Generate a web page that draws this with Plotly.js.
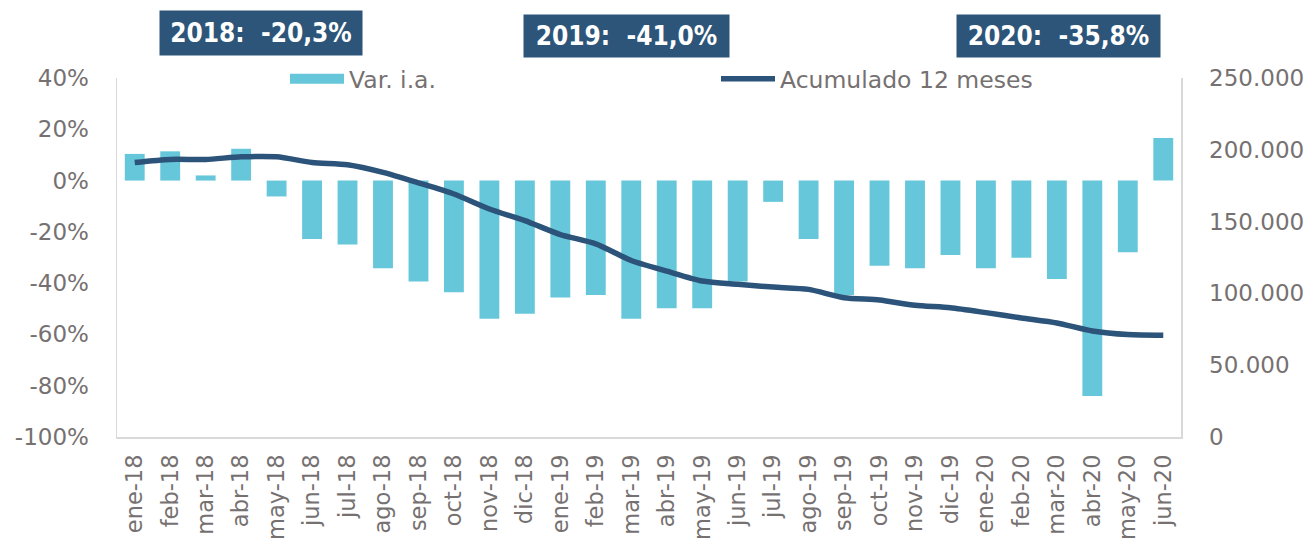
<!DOCTYPE html>
<html>
<head>
<meta charset="utf-8">
<script src="https://cdn.plot.ly/plotly-3.0.1.min.js"></script>
<style>html,body{margin:0;padding:0;background:#fff;}#chart{width:1309px;height:543px;}</style>
</head>
<body>
<div id="chart"></div>
<script>
var categories = ['ene-18','feb-18','mar-18','abr-18','may-18','jun-18','jul-18','ago-18','sep-18','oct-18','nov-18','dic-18','ene-19','feb-19','mar-19','abr-19','may-19','jun-19','jul-19','ago-19','sep-19','oct-19','nov-19','dic-19','ene-20','feb-20','mar-20','abr-20','may-20','jun-20'];
var varIA = [10.4, 11.4, 2.0, 12.4, -6.2, -22.8, -24.9, -34.2, -39.4, -43.6, -53.9, -51.9, -45.6, -44.6, -53.9, -49.8, -49.8, -39.4, -8.3, -22.8, -44.6, -33.2, -34.2, -29.0, -34.2, -30.1, -38.4, -84.0, -28.0, 16.6];
var acumulado = [191200, 193300, 193300, 195100, 195100, 191200, 189600, 184300, 177000, 169200, 158800, 150700, 141000, 134500, 122900, 115500, 108600, 106300, 104400, 102800, 97000, 95400, 91700, 90000, 86600, 82900, 79400, 73800, 71300, 70800];
var leftTickVals = [40, 20, 0, -20, -40, -60, -80, -100];
var leftTickText = ['40%', '20%', '0%', '-20%', '-40%', '-60%', '-80%', '-100%'];
var rightTickVals = [0, 50000, 100000, 150000, 200000, 250000];
var rightTickText = ['0', '50.000', '100.000', '150.000', '200.000', '250.000'];
var yearLabels = ['2018:\u00a0\u00a0-20,3%', '2019:\u00a0\u00a0-41,0%', '2020:\u00a0\u00a0-35,8%'];
var seriesNames = ['Var. i.a.', 'Acumulado 12 meses'];

var barColor = '#67c7da';
var lineColor = '#2c5379';
var gray = '#767171';
var fontFam = 'DejaVu Sans, Verdana, sans-serif';

var traces = [
  {type: 'bar', x: categories, y: varIA, name: seriesNames[0], marker: {color: barColor}, showlegend: false, yaxis: 'y', hoverinfo: 'x+y'},
  {type: 'scatter', mode: 'lines', x: [null], y: [null], name: seriesNames[0], line: {color: barColor, width: 14}, yaxis: 'y', showlegend: true},
  {type: 'scatter', mode: 'lines', x: categories, y: acumulado, name: seriesNames[1], line: {color: lineColor, width: 5.5, shape: 'spline', smoothing: 0.7}, yaxis: 'y2', showlegend: true}
];

var L = 117, R = 1181, T = 78, B = 437;
function px(x){ return (x - L) / (R - L); }
function py(y){ return (B - y) / (B - T); }
var boxes = [[261, 33, 202, 44], [626.5, 36, 205, 42], [1058.5, 36, 203, 42]];
var annotations = boxes.map(function(b, i){
  return {xref: 'paper', yref: 'paper', x: px(b[0]), y: py(b[1]), xanchor: 'center', yanchor: 'middle',
    text: '<b>' + yearLabels[i] + '</b>', showarrow: false, width: b[2], height: b[3], borderpad: 0,
    bgcolor: '#2d5579', font: {family: 'DejaVu Sans Condensed, DejaVu Sans, sans-serif', size: 26, color: '#ffffff'}};
});

var layout = {
  width: 1309, height: 543,
  margin: {l: L, r: 1309 - R, t: T, b: 543 - B, pad: 0},
  paper_bgcolor: '#ffffff', plot_bgcolor: '#ffffff',
  font: {family: fontFam, size: 23, color: gray},
  bargap: 0.44,
  showlegend: true,
  legend: {orientation: 'h', x: px(285), y: py(79), xanchor: 'left', yanchor: 'middle', bgcolor: 'rgba(0,0,0,0)',
    font: {family: fontFam, size: 23.5, color: gray}, itemwidth: 54, entrywidth: 362, traceorder: 'normal'},
  xaxis: {type: 'category', range: [-0.5, 29.5], showgrid: false, zeroline: false, showline: true, linecolor: '#d9d9d9', linewidth: 1.5,
    tickangle: -90, ticks: '', ticklabelstandoff: 7, tickfont: {family: fontFam, size: 22.5, color: gray}, automargin: false},
  yaxis: {range: [-100, 40], tickvals: leftTickVals, ticktext: leftTickText, showgrid: false, zeroline: false, showline: true, linecolor: '#d9d9d9', linewidth: 1.5,
    ticks: '', ticklabelstandoff: 22, tickfont: {family: fontFam, size: 23, color: gray}, automargin: false},
  yaxis2: {overlaying: 'y', side: 'right', range: [0, 250000], tickvals: rightTickVals, ticktext: rightTickText, showgrid: false, zeroline: false, showline: true, linecolor: '#d9d9d9', linewidth: 1.5,
    ticks: '', ticklabelstandoff: 22, tickfont: {family: fontFam, size: 23, color: gray}, automargin: false},
  annotations: annotations
};

Plotly.newPlot('chart', traces, layout, {displayModeBar: false, staticPlot: true});
</script>
</body>
</html>
